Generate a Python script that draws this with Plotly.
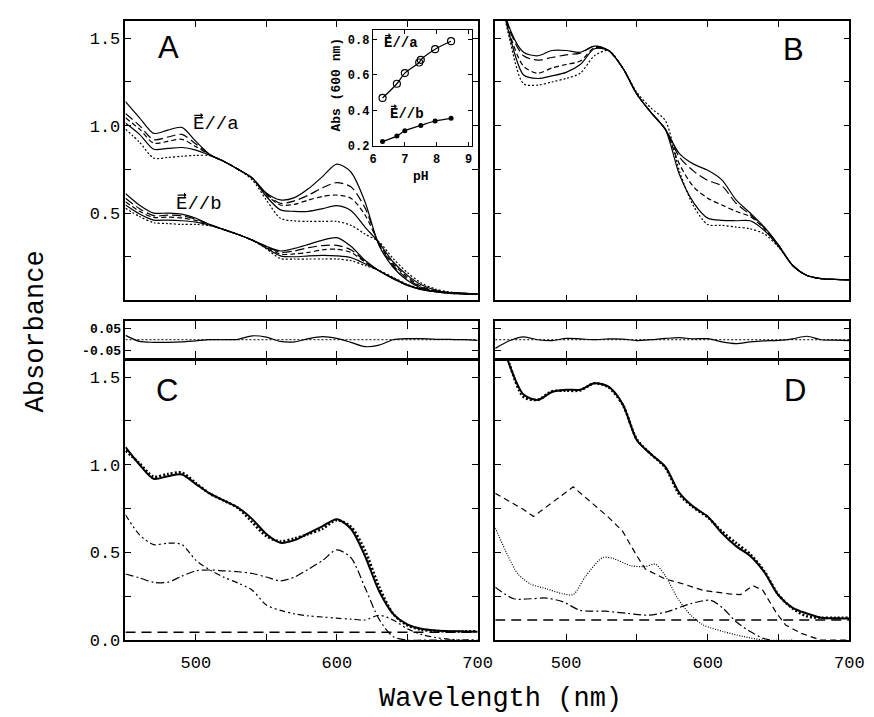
import plotly.graph_objects as go

# ---------------- data ----------------
wl = [450, 460, 470, 480, 490, 500, 510, 520, 530, 540, 550, 560, 570,
      580, 590, 600, 610, 620, 630, 640, 650, 660, 670, 680, 690, 700]

# Panel A, E//a (pH series)
A_a1 = [1.138, 1.045, 0.956, 0.975, 0.99, 0.91, 0.835, 0.795, 0.75, 0.70, 0.615, 0.575, 0.588,
        0.64, 0.71, 0.78, 0.735, 0.565, 0.315, 0.19, 0.115, 0.07, 0.05, 0.04, 0.037, 0.035]
A_a2 = [1.07, 1.0, 0.92, 0.935, 0.95, 0.895, 0.833, 0.795, 0.75, 0.70, 0.61, 0.556, 0.57,
        0.603, 0.645, 0.674, 0.65, 0.53, 0.32, 0.20, 0.125, 0.075, 0.052, 0.042, 0.037, 0.035]
A_a3 = [1.045, 0.98, 0.90, 0.91, 0.922, 0.88, 0.832, 0.795, 0.75, 0.70, 0.605, 0.546, 0.55,
        0.575, 0.595, 0.603, 0.585, 0.49, 0.325, 0.21, 0.135, 0.08, 0.055, 0.043, 0.038, 0.035]
A_a4 = [1.015, 0.95, 0.865, 0.87, 0.875, 0.86, 0.83, 0.795, 0.75, 0.70, 0.595, 0.518, 0.51,
        0.51, 0.525, 0.543, 0.515, 0.42, 0.33, 0.22, 0.145, 0.09, 0.06, 0.045, 0.04, 0.037]
A_a5 = [0.98, 0.905, 0.815, 0.818, 0.825, 0.83, 0.828, 0.795, 0.75, 0.69, 0.575, 0.47, 0.455,
        0.452, 0.452, 0.452, 0.43, 0.38, 0.335, 0.24, 0.16, 0.10, 0.065, 0.048, 0.04, 0.037]
# Panel A, E//b
A_b1 = [0.612, 0.545, 0.50, 0.50, 0.494, 0.47, 0.434, 0.405, 0.377, 0.345, 0.31, 0.283, 0.298,
        0.321, 0.345, 0.359, 0.31, 0.23, 0.17, 0.124, 0.086, 0.062, 0.05, 0.043, 0.04, 0.038]
A_b2 = [0.585, 0.525, 0.485, 0.488, 0.484, 0.465, 0.434, 0.405, 0.377, 0.345, 0.308, 0.275, 0.283,
        0.302, 0.314, 0.315, 0.29, 0.225, 0.17, 0.125, 0.087, 0.063, 0.05, 0.043, 0.04, 0.038]
A_b3 = [0.565, 0.51, 0.475, 0.477, 0.472, 0.458, 0.432, 0.405, 0.377, 0.345, 0.305, 0.265, 0.266,
        0.275, 0.29, 0.293, 0.275, 0.22, 0.17, 0.126, 0.088, 0.064, 0.051, 0.044, 0.04, 0.038]
A_b4 = [0.546, 0.495, 0.46, 0.46, 0.456, 0.448, 0.43, 0.405, 0.377, 0.345, 0.30, 0.255, 0.25,
        0.255, 0.258, 0.255, 0.245, 0.21, 0.17, 0.128, 0.09, 0.065, 0.052, 0.045, 0.04, 0.038]
A_b5 = [0.528, 0.48, 0.445, 0.44, 0.435, 0.435, 0.428, 0.405, 0.377, 0.345, 0.295, 0.24, 0.237,
        0.237, 0.237, 0.237, 0.228, 0.20, 0.172, 0.132, 0.092, 0.066, 0.052, 0.045, 0.04, 0.038]

# Panel B
B_1 = [1.90, 1.56, 1.42, 1.40, 1.43, 1.43, 1.42, 1.455, 1.43, 1.33, 1.18, 1.075, 0.98,
       0.84, 0.78, 0.745, 0.69, 0.575, 0.50, 0.419, 0.317, 0.20, 0.143, 0.125, 0.12, 0.118]
B_2 = [1.90, 1.55, 1.40, 1.375, 1.39, 1.405, 1.415, 1.455, 1.43, 1.33, 1.18, 1.075, 0.98,
       0.82, 0.74, 0.687, 0.655, 0.556, 0.49, 0.415, 0.317, 0.20, 0.143, 0.125, 0.12, 0.118]
B_3 = [1.90, 1.53, 1.34, 1.30, 1.33, 1.35, 1.37, 1.445, 1.43, 1.33, 1.18, 1.075, 0.98,
       0.78, 0.65, 0.585, 0.546, 0.51, 0.48, 0.41, 0.315, 0.20, 0.143, 0.125, 0.12, 0.118]
B_4 = [1.90, 1.52, 1.29, 1.27, 1.285, 1.305, 1.35, 1.44, 1.43, 1.33, 1.18, 1.075, 0.98,
       0.72, 0.56, 0.471, 0.458, 0.456, 0.456, 0.40, 0.31, 0.20, 0.143, 0.125, 0.12, 0.118]
B_5 = [1.90, 1.50, 1.24, 1.232, 1.25, 1.27, 1.30, 1.40, 1.43, 1.33, 1.19, 1.10, 1.03,
       0.74, 0.54, 0.434, 0.43, 0.42, 0.41, 0.38, 0.305, 0.20, 0.143, 0.125, 0.12, 0.118]

# Residuals
res_C = [0.02, -0.008, -0.012, -0.012, -0.01, -0.005, 0.0, 0.0, 0.002, 0.018, 0.012, -0.008, -0.01,
         0.005, 0.014, 0.006, -0.012, -0.032, -0.025, 0.0, 0.005, 0.005, 0.002, 0.002, 0.0, -0.003]
res_D = [-0.04, -0.005, 0.013, 0.0, -0.004, 0.006, 0.004, 0.0, 0.004, 0.003, -0.004, 0.0, 0.006,
         0.01, 0.004, 0.005, -0.01, -0.018, -0.01, -0.005, -0.003, 0.004, 0.016, 0.0, -0.002, -0.004]
res_zero = [0.0, 0.0]
res_wl = [450, 700]

# Panel C
C_data = [1.10, 1.0, 0.92, 0.935, 0.945, 0.89, 0.835, 0.795, 0.755, 0.69, 0.605, 0.555, 0.57,
          0.61, 0.65, 0.69, 0.635, 0.48, 0.28, 0.15, 0.09, 0.065, 0.055, 0.051, 0.05, 0.048]
C_fit = [1.08, 1.008, 0.932, 0.947, 0.955, 0.895, 0.835, 0.795, 0.753, 0.672, 0.593, 0.563, 0.58,
         0.605, 0.636, 0.684, 0.647, 0.512, 0.305, 0.15, 0.085, 0.06, 0.053, 0.049, 0.05, 0.051]
C_comp1 = [0.715, 0.60, 0.545, 0.553, 0.545, 0.455, 0.40, 0.358, 0.325, 0.285, 0.20, 0.17, 0.15,
           0.138, 0.132, 0.125, 0.12, 0.115, 0.142, 0.115, 0.065, 0.033, 0.015, 0.005, 0.0, 0.0]
C_comp2 = [0.377, 0.355, 0.33, 0.33, 0.365, 0.395, 0.40, 0.395, 0.39, 0.38, 0.36, 0.338, 0.36,
           0.405, 0.455, 0.515, 0.47, 0.30, 0.12, 0.02, 0.0, 0.0, 0.0, 0.0, 0.0, 0.0]
C_base = [0.045, 0.045]

# Panel D
D_data = [1.85, 1.57, 1.40, 1.37, 1.415, 1.428, 1.428, 1.465, 1.445, 1.345, 1.14, 1.06, 0.99,
          0.84, 0.76, 0.705, 0.61, 0.536, 0.48, 0.387, 0.255, 0.184, 0.152, 0.128, 0.125, 0.124]
D_fit = [1.89, 1.575, 1.387, 1.37, 1.419, 1.422, 1.424, 1.465, 1.441, 1.342, 1.144, 1.06, 0.984,
         0.83, 0.756, 0.70, 0.62, 0.554, 0.49, 0.392, 0.258, 0.18, 0.136, 0.128, 0.127, 0.128]
D_dash_wl = [450, 460, 470, 477, 490, 505, 520, 530, 540, 550, 556, 570, 583, 597, 615, 623,
             632, 639, 648, 655, 666, 680, 700]
D_dash = [0.837, 0.79, 0.745, 0.705, 0.783, 0.874, 0.77, 0.70, 0.62, 0.48, 0.405, 0.349, 0.32,
          0.283, 0.264, 0.259, 0.311, 0.283, 0.161, 0.086, 0.039, 0.0, 0.0]
D_dot_wl = [450, 459, 466, 475, 486, 498, 505, 514, 526, 533, 546, 556, 563, 570, 579, 588,
            597, 611, 625, 640, 660]
D_dot = [0.64, 0.48, 0.377, 0.32, 0.293, 0.264, 0.26, 0.367, 0.471, 0.466, 0.424, 0.42, 0.433,
         0.367, 0.236, 0.142, 0.086, 0.049, 0.021, 0.0, 0.0]
D_dd_wl = [450, 463, 475, 486, 498, 510, 528, 544, 558, 571, 588, 602, 611, 620, 630, 639, 645]
D_dd = [0.302, 0.236, 0.236, 0.24, 0.218, 0.17, 0.165, 0.152, 0.142, 0.161, 0.208, 0.227, 0.18,
        0.105, 0.049, 0.011, 0.0]
D_base = [0.115, 0.115]

# Inset
pH_a = [6.3, 6.75, 7.0, 7.45, 7.5, 7.95, 8.45]
abs_a = [0.47, 0.55, 0.61, 0.67, 0.685, 0.745, 0.79]
pH_b = [6.3, 6.75, 7.0, 7.5, 7.95, 8.45]
abs_b = [0.225, 0.255, 0.285, 0.315, 0.34, 0.355]

x_ticks = [500, 550, 600, 650, 700]
x_text = ['500', '', '600', '', '700']
y_ticks_A = [0.25, 0.5, 0.75, 1.0, 1.25, 1.5]
y_text_A = ['', '0.5', '', '1.0', '', '1.5']
y_ticks_C = [0.0, 0.25, 0.5, 0.75, 1.0, 1.25, 1.5]
y_text_C = ['0.0', '', '0.5', '', '1.0', '', '1.5']
res_ticks = [-0.05, 0.05]
res_text = ['-0.05', '0.05']

# ---------------- figure ----------------
W, H = 874, 717
MONO = 'Liberation Mono'
SANS = 'Liberation Sans'

def px(x):
    return x / W

def py(y):
    return 1 - y / H

fig = go.Figure()

DOT = '2px,2px'
LDASH = '9px,4px'
SDASH = '5px,3px'

def add(x, y, n, dash='solid', width=1.2, shape='spline'):
    fig.add_trace(go.Scatter(x=x, y=y, mode='lines', xaxis='x' + n, yaxis='y' + n,
                             line=dict(color='black', width=width, dash=dash, shape=shape,
                                       smoothing=0.8 if shape == 'spline' else None),
                             showlegend=False, hoverinfo='skip'))

# Panel A
for ys, d in [(A_a1, 'solid'), (A_a2, LDASH), (A_a3, SDASH), (A_a4, 'solid'), (A_a5, DOT),
              (A_b1, 'solid'), (A_b2, LDASH), (A_b3, SDASH), (A_b4, 'solid'), (A_b5, DOT)]:
    add(wl, ys, '', d)
# Panel B
for ys, d in [(B_1, 'solid'), (B_2, LDASH), (B_3, SDASH), (B_4, 'solid'), (B_5, DOT)]:
    add(wl, ys, '2', d)
# Residuals
add(res_wl, res_zero, '3', DOT, 1.0, 'linear')
add(wl, res_C, '3', 'solid', 1.2)
add(res_wl, res_zero, '4', DOT, 1.0, 'linear')
add(wl, res_D, '4', 'solid', 1.2)
# Panel C
add(wl, C_data, '5', 'solid', 2.0)
add(wl, C_fit, '5', '2px,2px', 2.6)
add(wl, C_comp1, '5', '6px,3px,2px,3px,2px,3px', 1.2)
add(wl, C_comp2, '5', '8px,3px,2px,3px', 1.2)
add(res_wl, C_base, '5', '10px,6px', 1.5, 'linear')
# Panel D
add(wl, D_data, '6', 'solid', 2.0)
add(wl, D_fit, '6', '2px,2px', 2.6)
add(D_dash_wl, D_dash, '6', '6px,4px', 1.2, 'linear')
add(D_dot_wl, D_dot, '6', '1px,1.5px', 1.2)
add(D_dd_wl, D_dd, '6', '8px,3px,2px,3px', 1.2)
add(res_wl, D_base, '6', '10px,6px', 1.5, 'linear')

# Inset
fig.add_trace(go.Scatter(x=pH_a, y=abs_a, mode='lines+markers', xaxis='x7', yaxis='y7',
                         line=dict(color='black', width=1.2, shape='spline'),
                         marker=dict(symbol='circle-open', size=7, color='black', line=dict(width=1.2)),
                         showlegend=False, hoverinfo='skip'))
fig.add_trace(go.Scatter(x=pH_b, y=abs_b, mode='lines+markers', xaxis='x7', yaxis='y7',
                         line=dict(color='black', width=1.2, shape='spline'),
                         marker=dict(symbol='circle', size=5, color='black'),
                         showlegend=False, hoverinfo='skip'))

LEFT = [px(116), px(476)]
RIGHT = [px(494), px(856)]
TOP = [py(297), py(13)]
RES = [py(356), py(318)]
BOT = [py(642), py(357)]

tickfont = dict(family=MONO, size=17, color='black')

def xaxis(dom, anchor, labels, ticklen=6):
    return dict(domain=dom, anchor=anchor, range=[450, 700], showline=True, linewidth=1.5,
                linecolor='black', mirror='ticks', ticks='inside', ticklen=ticklen, tickwidth=1.2,
                tickcolor='black', tickmode='array', tickvals=x_ticks, ticktext=x_text,
                showticklabels=labels, showgrid=False, zeroline=False, tickfont=tickfont,
                ticklabelstandoff=6)

def yaxis(dom, anchor, tv, tt, labels, rng=(0, 1.6), font=tickfont):
    return dict(domain=dom, anchor=anchor, range=list(rng), showline=True, linewidth=1.5,
                linecolor='black', mirror='ticks', ticks='inside', ticklen=6, tickwidth=1.2,
                tickcolor='black', tickmode='array', tickvals=tv, ticktext=tt,
                showticklabels=labels, showgrid=False, zeroline=False, tickfont=font)

resfont = dict(family=MONO, size=13, color='black', weight='bold')

layout = dict(
    width=W, height=H, margin=dict(l=0, r=0, t=0, b=0),
    paper_bgcolor='white', plot_bgcolor='white',
    xaxis=xaxis(LEFT, 'y', False),
    yaxis=yaxis(TOP, 'x', y_ticks_A, y_text_A, True),
    xaxis2=xaxis(RIGHT, 'y2', False),
    yaxis2=yaxis(TOP, 'x2', y_ticks_A, y_text_A, False),
    xaxis3=xaxis(LEFT, 'y3', False, 8),
    yaxis3=yaxis(RES, 'x3', res_ticks, res_text, True, (-0.087, 0.086), resfont),
    xaxis4=xaxis(RIGHT, 'y4', False, 8),
    yaxis4=yaxis(RES, 'x4', res_ticks, res_text, False, (-0.087, 0.086)),
    xaxis5=xaxis(LEFT, 'y5', True),
    yaxis5=yaxis(BOT, 'x5', y_ticks_C, y_text_C, True),
    xaxis6=xaxis(RIGHT, 'y6', True),
    yaxis6=yaxis(BOT, 'x6', y_ticks_C, y_text_C, False),
)
insetfont = dict(family=MONO, size=12, color='black', weight='bold')
layout['xaxis7'] = dict(domain=[px(369), px(470)], anchor='y7', range=[6, 9.1], showline=True,
                        linewidth=1.2, linecolor='black', mirror='ticks', ticks='inside', ticklen=4,
                        tickcolor='black', tickvals=[6, 7, 8, 9], showgrid=False, zeroline=False,
                        tickfont=insetfont, ticklabelstandoff=2)
layout['yaxis7'] = dict(domain=[py(140), py(22)], anchor='x7', range=[0.2, 0.855], showline=True,
                        linewidth=1.2, linecolor='black', mirror='ticks', ticks='inside', ticklen=4,
                        tickcolor='black', tickvals=[0.2, 0.4, 0.6, 0.8], ticktext=['0.2', '0.4', '0.6', '0.8'],
                        showgrid=False, zeroline=False, tickfont=insetfont)
fig.update_layout(**layout)

def ann(x, y, text, font, angle=0, xanchor='center'):
    fig.add_annotation(x=px(x), y=py(y), xref='paper', yref='paper', text=text, showarrow=False,
                       font=font, textangle=angle, xanchor=xanchor, yanchor='middle')

def vec_label(x_left, y, text, font, char_w, cap_h):
    # text whose leading "E" carries a vector arrow above it
    ann(x_left, y, text, font, xanchor='left')
    ya = y - cap_h / 2 - 3
    fig.add_annotation(x=px(x_left + char_w + 1), y=py(ya), xref='paper', yref='paper', text='',
                       showarrow=True, ax=-(char_w - 1), ay=0, arrowhead=1, arrowsize=0.7,
                       arrowwidth=1.2, arrowcolor='black', standoff=0, startstandoff=0)

letter = dict(family=SANS, size=31, color='black')
ann(160, 40, 'A', letter)
ann(799, 42, 'B', letter)
ann(158, 388, 'C', letter)
ann(800, 388, 'D', letter)

lab = dict(family=MONO, size=19, color='black')
vec_label(183, 118, 'E//a', lab, 11.4, 12)
vec_label(166, 199, 'E//b', lab, 11.4, 12)
ilab = dict(family=MONO, size=14, color='black', weight='bold')
vec_label(378, 36, 'E//a', ilab, 8.4, 10)
vec_label(384, 108, 'E//b', ilab, 8.4, 10)
ann(332, 78, 'Abs (600 nm)', dict(family=MONO, size=13, color='black', weight='bold'), -90)
ann(418, 171, 'pH', dict(family=MONO, size=13, color='black', weight='bold'))

title = dict(family=MONO, size=27, color='black')
ann(24, 328, 'Absorbance', title, -90)
ann(499, 702, 'Wavelength (nm)', title)

fig.write_html('out.html')
